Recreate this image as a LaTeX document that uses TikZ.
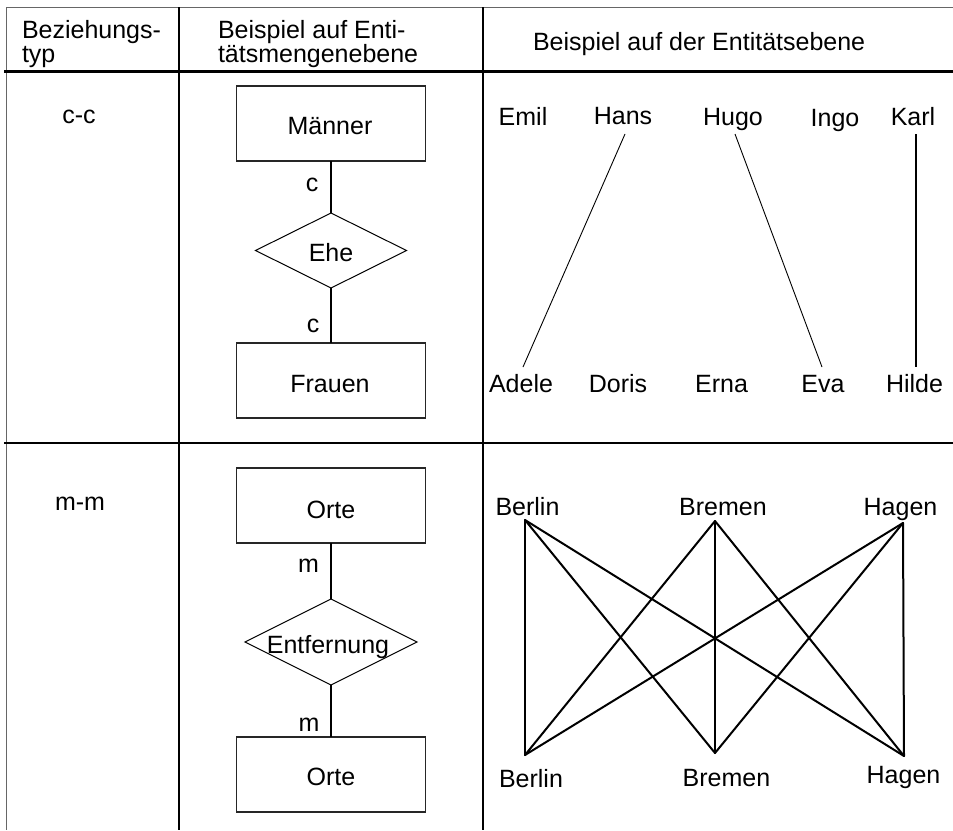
\documentclass[tikz,border=0pt]{standalone}
\usepackage{fontspec}
\setmainfont{Liberation Sans}
\usetikzlibrary{shapes.geometric}
\begin{document}
\begin{tikzpicture}[x=1pt,y=-1pt,
  every node/.style={font=\fontsize{25}{27}\selectfont, inner sep=0pt, outer sep=0pt},
  txt/.style={anchor=base},
  lefttxt/.style={anchor=base west},
  ebox/.style={draw=black!85, line width=1.4pt, minimum width=189pt, minimum height=75pt},
  rel/.style={draw=black, shape=diamond, line width=1pt},
  conn/.style={line width=2pt},
  fineconn/.style={line width=0.9pt},
  thinrule/.style={line width=1pt, draw=black!60},
  colrule/.style={line width=2pt},
  headrule/.style={line width=3pt},
  rowrule/.style={line width=2.6pt}]
\useasboundingbox (0,0) rectangle (953,830);
\fill[white] (0,0) rectangle (953,830);

% table rules
\draw[thinrule] (6,7) -- (953,7);
\draw[thinrule] (6,7) -- (6,830);
\draw[colrule] (179,7) -- (179,830);
\draw[colrule] (482.5,7) -- (482.5,830);
\draw[headrule] (4,71) -- (953,71);
\draw[rowrule] (4,443) -- (953,443);

% header
\node[lefttxt] (h1a) at (22,38) {Beziehungs-};
\node[lefttxt] (h1b) at (22,62.5) {typ};
\node[lefttxt] (h2a) at (218,38) {Beispiel auf Enti-};
\node[lefttxt] (h2b) at (218,62.5) {tätsmengenebene};
\node[lefttxt] (h3) at (533,50) {Beispiel auf der Entitätsebene};

% column 1
\node[txt] (cc) at (79,123) {c-c};
\node[txt] (mm) at (80,510) {m-m};

% column 2, row 1
\node[ebox] (maenner) at (331,123.5) {};
\node[txt] (maennert) at (330,134) {Männer};
\node[rel, minimum width=151pt, minimum height=75pt] (ehe) at (331,250.5) {};
\node[txt] (ehet) at (331,261) {Ehe};
\node[ebox] (frauen) at (331,380.5) {};
\node[txt] (frauent) at (330,392) {Frauen};
\draw[conn] (maenner.south) -- (ehe.north);
\draw[conn] (ehe.south) -- (frauen.north);
\node[txt] (c1) at (312,191) {c};
\node[txt] (c2) at (313,332) {c};

% column 2, row 2
\node[ebox] (orte1) at (331,505.5) {};
\node[txt] (orte1t) at (331,518) {Orte};
\node[rel, minimum width=172pt, minimum height=86pt] (entf) at (331,642) {};
\node[txt] (entft) at (328,653) {Entfernung};
\node[ebox] (orte2) at (331,774.5) {};
\node[txt] (orte2t) at (331,785) {Orte};
\draw[conn] (orte1.south) -- (entf.north);
\draw[conn] (entf.south) -- (orte2.north);
\node[txt] (m1) at (308.5,572) {m};
\node[txt] (m2) at (309,731) {m};

% column 3, row 1
\node[txt] (emil) at (523,125) {Emil};
\node[txt] (hans) at (623,124) {Hans};
\node[txt] (hugo) at (733,125) {Hugo};
\node[txt] (ingo) at (835,126) {Ingo};
\node[txt] (karl) at (913,125) {Karl};
\node[txt] (adele) at (521,392) {Adele};
\node[txt] (doris) at (618,392) {Doris};
\node[txt] (erna) at (721.5,392.5) {Erna};
\node[txt] (eva) at (823,392) {Eva};
\node[txt] (hilde) at (914.5,392) {Hilde};
\coordinate (hansE) at (625,134);
\coordinate (adeleE) at (523,367);
\coordinate (hugoE) at (735,134);
\coordinate (evaE) at (822,367);
\coordinate (karlE) at (916,134);
\coordinate (hildeE) at (916,367);
\draw[fineconn] (hansE) -- (adeleE);
\draw[fineconn] (hugoE) -- (evaE);
\draw[conn] (karlE) -- (hildeE);

% column 3, row 2
\node[txt] (berlinA) at (527.5,515) {Berlin};
\node[txt] (bremenA) at (723,515) {Bremen};
\node[txt] (hagenA) at (900.5,515) {Hagen};
\node[txt] (berlinB) at (531,787) {Berlin};
\node[txt] (bremenB) at (726.5,786) {Bremen};
\node[txt] (hagenB) at (903.5,783) {Hagen};
\coordinate (t1) at (525,520);
\coordinate (t2) at (715,521);
\coordinate (t3) at (903,523);
\coordinate (b1) at (525,755);
\coordinate (b2) at (715,753);
\coordinate (b3) at (904,756);
\foreach \t in {t1,t2,t3}{
  \foreach \b in {b1,b2,b3}{
    \draw[conn, line cap=round] (\t) -- (\b);
  }
}
\end{tikzpicture}
\end{document}
